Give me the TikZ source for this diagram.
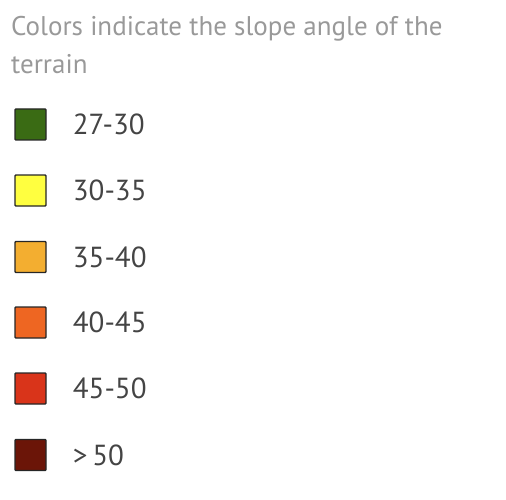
\documentclass[tikz,border=0pt]{standalone}
\usepackage{fontspec}
\setmainfont{PT Sans}
\usepackage{tikz}
\usetikzlibrary{positioning}

\definecolor{captiongray}{HTML}{999999}
\definecolor{labelgray}{HTML}{444444}
\definecolor{slopeA}{HTML}{3A6B14}
\definecolor{slopeB}{HTML}{FFFF40}
\definecolor{slopeC}{HTML}{F3AE30}
\definecolor{slopeD}{HTML}{EE6622}
\definecolor{slopeE}{HTML}{D9341A}
\definecolor{slopeF}{HTML}{6B1508}

\tikzset{
    swatch/.style={draw=black!85, line width=1.4pt, rounded corners=0.8pt, minimum size=31pt, inner sep=0pt},
    rangelabel/.style={text=labelgray, inner sep=0pt, font=\fontsize{29}{32}\selectfont}
}

\begin{document}
\begin{tikzpicture}[x=1pt, y=-1pt]
    \useasboundingbox (0,0) rectangle (506,500);

    % Caption (base anchor sits on the last line)
    \node [anchor=base west, align=left, inner sep=0pt, text=captiongray,
           font=\fontsize{27}{38}\selectfont] (caption) at (11,74)
          {Colors indicate the slope angle of the\\terrain};

    % Swatches
    \node [swatch, fill=slopeA] (s1) at (30.5,124.5) {};
    \node [swatch, fill=slopeB] (s2) at (30.5,190.5) {};
    \node [swatch, fill=slopeC] (s3) at (30.5,257) {};
    \node [swatch, fill=slopeD] (s4) at (30.5,322.5) {};
    \node [swatch, fill=slopeE] (s5) at (30.5,388.5) {};
    \node [swatch, fill=slopeF] (s6) at (30.5,455) {};

    % Ranges
    \node [rangelabel, right=26pt of s1] (r1) {27-30};
    \node [rangelabel, right=26pt of s2] (r2) {30-35};
    \node [rangelabel, right=26pt of s3] (r3) {35-40};
    \node [rangelabel, right=26pt of s4] (r4) {40-45};
    \node [rangelabel, right=26pt of s5] (r5) {45-50};
    \node [rangelabel, right=26pt of s6] (r6) {>\,50};

\end{tikzpicture}
\end{document}
